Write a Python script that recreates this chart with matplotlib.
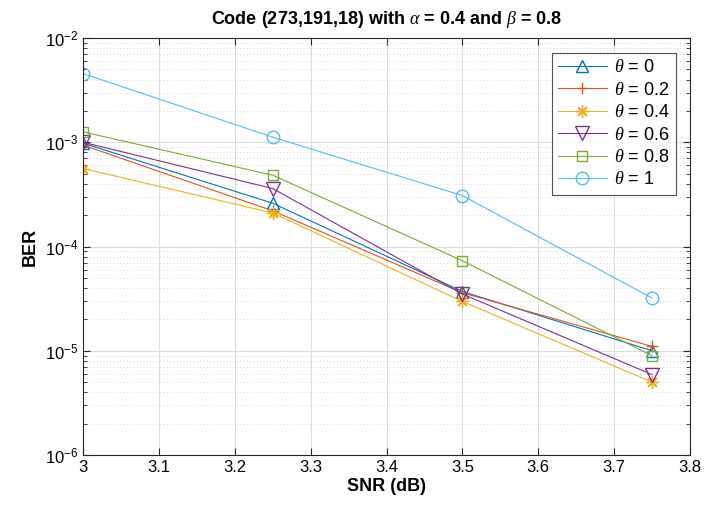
import matplotlib
matplotlib.use("Agg")
from matplotlib import pyplot as plt
from matplotlib.ticker import LogLocator, NullFormatter, FixedLocator
import numpy as np

plt.rcParams["font.family"] = ["Liberation Sans", "DejaVu Sans"]
plt.rcParams["mathtext.fontset"] = "custom"
plt.rcParams["mathtext.rm"] = "Liberation Sans"
plt.rcParams["mathtext.it"] = "Liberation Serif:italic"
plt.rcParams["mathtext.bf"] = "Liberation Sans:bold"

snr = [3.0, 3.25, 3.5, 3.75]
thetas = ["0", "0.2", "0.4", "0.6", "0.8", "1"]
ber_t0 = [9.8e-4, 2.6e-4, 3.7e-5, 1.0e-5]
ber_t02 = [9.4e-4, 2.2e-4, 3.6e-5, 1.1e-5]
ber_t04 = [5.6e-4, 2.1e-4, 2.97e-5, 5.0e-6]
ber_t06 = [1.0e-3, 3.6e-4, 3.5e-5, 5.9e-6]
ber_t08 = [1.26e-3, 4.83e-4, 7.3e-5, 8.95e-6]
ber_t1 = [4.56e-3, 1.12e-3, 3.08e-4, 3.2e-5]

series = [ber_t0, ber_t02, ber_t04, ber_t06, ber_t08, ber_t1]
colors = ["#0072BD", "#D95319", "#EDB120", "#7E2F8E", "#77AC30", "#4DBEEE"]
# asterisk made of 8 spokes, like the '*' marker in MATLAB
markers = ["^", "+", (8, 2, 0), "v", "s", "o"]
msizes = [9, 9, 9, 10, 7, 9]

fig = plt.figure(figsize=(7.06, 5.14), dpi=100)
ax = fig.add_axes([0.1176, 0.1148, 0.8598, 0.8112])

for th, ber, c, m, ms in zip(thetas, series, colors, markers, msizes):
    ax.plot(snr, ber, color=c, marker=m, markersize=ms, markerfacecolor="none",
            markeredgecolor=c, markeredgewidth=1.0, linewidth=0.8,
            label=r"$\theta$ = " + th)

ax.set_yscale("log")
ax.set_xlim(3, 3.8)
ax.set_ylim(1e-6, 1e-2)
ax.xaxis.set_major_locator(FixedLocator(np.round(np.arange(3, 3.81, 0.1), 1)))
ax.set_xticklabels(["3", "3.1", "3.2", "3.3", "3.4", "3.5", "3.6", "3.7", "3.8"])
ax.yaxis.set_major_locator(LogLocator(base=10, numticks=10))
ax.yaxis.set_minor_locator(LogLocator(base=10, subs=np.arange(2, 10), numticks=20))
ax.yaxis.set_minor_formatter(NullFormatter())

ax.grid(True, which="major", color="#dcdcdc", linewidth=0.8, linestyle="-")
ax.grid(True, which="minor", axis="y", color="#c8c8c8", linewidth=0.6, linestyle=(0, (1, 3)))
ax.set_axisbelow(True)

ax.tick_params(which="both", direction="in", top=True, right=True, labelsize=12, color="#262626")
ax.tick_params(which="major", length=5)
ax.tick_params(which="minor", length=3)
for s in ax.spines.values():
    s.set_color("#262626")
    s.set_linewidth(0.8)

ax.set_xlabel("SNR (dB)", fontsize=13, fontweight="bold", labelpad=2)
ax.set_ylabel("BER", fontsize=13, fontweight="bold", labelpad=4)
ax.set_title(r"Code (273,191,18) with $\alpha$ = 0.4 and $\beta$ = 0.8",
             fontsize=13, fontweight="bold", pad=10)

leg = ax.legend(loc="upper right", fontsize=13, frameon=True, fancybox=False,
                edgecolor="#262626", handlelength=2.7, handletextpad=0.4,
                borderpad=0.35, labelspacing=0.3, borderaxespad=0,
                bbox_to_anchor=(0.977, 0.964))
leg.get_frame().set_linewidth(0.8)

fig.savefig("out.png", dpi=100)
